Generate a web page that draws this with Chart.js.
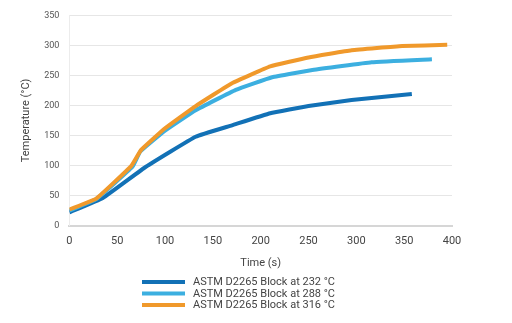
<!DOCTYPE html>
<html>
<head>
<meta charset="utf-8">
<script src="https://cdn.jsdelivr.net/npm/chart.js@4.4.0/dist/chart.umd.min.js"></script>
<style>
  html, body { margin: 0; padding: 0; background: #fff; }
  #wrap { width: 512px; height: 323px; position: relative; }
</style>
</head>
<body>
<div id="wrap"><canvas id="tempChart"></canvas></div>
<script>
// series labels
var seriesNames = ["ASTM D2265 Block at 232 \u00b0C", "ASTM D2265 Block at 288 \u00b0C", "ASTM D2265 Block at 316 \u00b0C"];
var seriesColors = ["#1271b6", "#3cafe0", "#f0992b"];

// time (s) and temperature (C)
var time232 = [0, 35, 80, 132, 170, 210, 250, 295, 358];
var temp232 = [22, 46, 98, 148, 167, 187, 199, 209, 219];

var time288 = [0, 28, 66, 74, 100, 132, 174, 212, 254, 316, 379];
var temp288 = [25, 44, 98, 123, 158, 192, 226, 247, 259, 272, 277];

var time316 = [0, 28, 65, 75, 100, 132, 170, 210, 250, 295, 348, 395];
var temp316 = [27, 45, 100, 126, 162, 199, 237, 265, 280, 292, 299, 301];

var xTicks = [0, 50, 100, 150, 200, 250, 300, 350, 400];
var yTicks = [0, 50, 100, 150, 200, 250, 300, 350];

var fontFam = "'Liberation Sans Narrow', Roboto, 'Liberation Sans', sans-serif";

function toPoints(xs, ys) {
	var pts = [];
	for (var i = 0; i < xs.length; i++) {
		pts.push({ x : xs[i], y : ys[i] });
	}
	return pts;
}

// legend stacked one per line under the axis title, in series order
var stackedLegend = {
	id : "stackedLegend",
	afterDraw : function(chart) {
		var ctx = chart.ctx;
		ctx.save();
		seriesNames.forEach(function(name, i) {
			var y = 282 + i * 11.5;
			ctx.strokeStyle = seriesColors[i];
			ctx.lineWidth = 4;
			ctx.beginPath();
			ctx.moveTo(142, y);
			ctx.lineTo(185, y);
			ctx.stroke();
			ctx.fillStyle = "#444";
			ctx.font = "11px " + fontFam;
			ctx.textBaseline = "middle";
			ctx.fillText(name, 193, y + 0.5);
		});
		ctx.restore();
	}
};

var datasets = [
	{ label : seriesNames[0], data : toPoints(time232, temp232) },
	{ label : seriesNames[1], data : toPoints(time288, temp288) },
	{ label : seriesNames[2], data : toPoints(time316, temp316) }
].map(function(ds, i) {
	ds.borderColor = seriesColors[i];
	ds.backgroundColor = seriesColors[i];
	ds.borderWidth = 4;
	ds.pointRadius = 0;
	ds.tension = 0.1;
	ds.showLine = true;
	ds.fill = false;
	return ds;
});
datasets.reverse();

var chart = new Chart(document.getElementById("tempChart"), {
	type : "scatter",
	data : { datasets : datasets },
	options : {
		responsive : true,
		maintainAspectRatio : false,
		animation : false,
		layout : { padding : { left : 16, right : 60, top : 10, bottom : 53 } },
		plugins : {
			legend : { display : false },
			tooltip : { enabled : false }
		},
		scales : {
			x : {
				type : "linear",
				min : 0,
				max : 400,
				afterBuildTicks : function(axis) {
					axis.ticks = xTicks.map(function(v) { return { value : v }; });
				},
				grid : { display : false, drawTicks : false },
				border : { display : true, color : "#d6d6d6", width : 2 },
				ticks : { color : "#444", font : { family : fontFam, size : 11 }, padding : 9, maxRotation : 0 },
				title : { display : true, text : "Time (s)", color : "#444", font : { family : fontFam, size : 11 }, padding : { top : 0, bottom : 0 } }
			},
			y : {
				min : 0,
				max : 350,
				afterBuildTicks : function(axis) {
					axis.ticks = yTicks.map(function(v) { return { value : v }; });
				},
				grid : { color : "#e6e6e6", lineWidth : 1, drawTicks : false },
				border : { display : true, color : "#ececec", width : 1 },
				ticks : { color : "#555", font : { family : fontFam, size : 9 }, padding : 10 },
				title : { display : true, text : "Temperature (\u00b0C)", color : "#444", font : { family : fontFam, size : 11 }, padding : { bottom : 1 } }
			}
		}
	},
	plugins : [stackedLegend]
});
</script>
</body>
</html>
